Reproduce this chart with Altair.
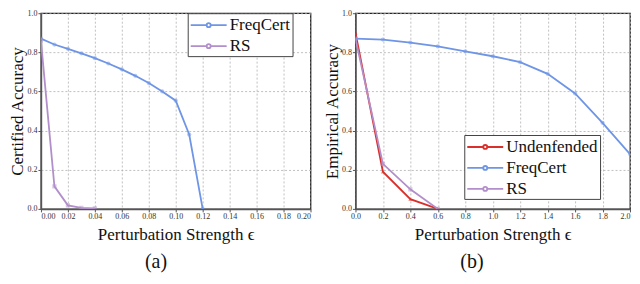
import altair as alt
import pandas as pd

# ---- data (a) ----
a_freq_x = [0.00, 0.01, 0.02, 0.03, 0.04, 0.05, 0.06, 0.07, 0.08, 0.09, 0.10, 0.11, 0.12]
a_freq_y = [0.87, 0.84, 0.818, 0.795, 0.77, 0.743, 0.713, 0.68, 0.643, 0.60, 0.553, 0.38, 0.0]
a_rs_x = [0.00, 0.01, 0.02, 0.03, 0.04]
a_rs_y = [0.86, 0.115, 0.018, 0.005, 0.003]
a_ticks = [0.00, 0.02, 0.04, 0.06, 0.08, 0.10, 0.12, 0.14, 0.16, 0.18, 0.20]

# ---- data (b) ----
b_freq_x = [0.0, 0.2, 0.4, 0.6, 0.8, 1.0, 1.2, 1.4, 1.6, 1.8, 2.0]
b_freq_y = [0.87, 0.865, 0.85, 0.83, 0.805, 0.78, 0.75, 0.69, 0.59, 0.44, 0.28]
b_und_x = [0.0, 0.2, 0.4, 0.6]
b_und_y = [0.90, 0.19, 0.05, 0.0]
b_rs_x = [0.0, 0.2, 0.4, 0.6]
b_rs_y = [0.87, 0.23, 0.10, 0.0]
b_ticks = [0.0, 0.2, 0.4, 0.6, 0.8, 1.0, 1.2, 1.4, 1.6, 1.8, 2.0]

y_ticks = [0.0, 0.2, 0.4, 0.6, 0.8, 1.0]

BLUE = "#6f95e6"
PURPLE = "#b28fcb"
RED = "#d9302c"

df_a = pd.concat([
    pd.DataFrame({"x": a_freq_x, "y": a_freq_y, "s": "FreqCert"}),
    pd.DataFrame({"x": a_rs_x, "y": a_rs_y, "s": "RS"}),
])
df_b = pd.concat([
    pd.DataFrame({"x": b_und_x, "y": b_und_y, "s": "Undenfended"}),
    pd.DataFrame({"x": b_freq_x, "y": b_freq_y, "s": "FreqCert"}),
    pd.DataFrame({"x": b_rs_x, "y": b_rs_y, "s": "RS"}),
])

FONT = "Liberation Serif"
LEGEND_SYMBOL = "M-2,0H-0.22M0.22,0H2M-0.22,0a0.22,0.22 0 1,0 0.44,0a0.22,0.22 0 1,0 -0.44,0"


def panel(df, xdom, xticks, xfmt, ytitle, dom, cols, shapes, lx, ly, caption, cdx, w, last):
    common = dict(grid=True, gridDash=[2, 2], gridColor="#b0b0b0", gridWidth=0.8,
                  labelFontSize=8, labelFont=FONT, labelColor="#333",
                  titleFont=FONT, titleFontSize=17, titleFontWeight="normal",
                  tickSize=3, labelPadding=1, domainColor="#555",
                  domainWidth=1.5, tickColor="#555", titleColor="#111")
    xextra = {}
    if last is not None:
        xextra["labelAlign"] = {"condition": {"test": f"datum.value >= {last}", "value": "right"},
                                "value": "center"}
    xax = alt.Axis(values=xticks, format=xfmt, title="Perturbation Strength  ϵ",
                   titlePadding=6, **xextra, **common)
    yax = alt.Axis(values=y_ticks, format=".1f", title=ytitle, titlePadding=0, **common)
    base = alt.Chart(df).encode(
        x=alt.X("x:Q", scale=alt.Scale(domain=xdom, nice=False, zero=False), axis=xax),
        y=alt.Y("y:Q", scale=alt.Scale(domain=[0, 1], nice=False), axis=yax),
    )
    color = alt.Color("s:N", scale=alt.Scale(domain=dom, range=cols),
                      legend=alt.Legend(title=None, orient="none", legendX=lx, legendY=ly,
                                        symbolType=LEGEND_SYMBOL, symbolSize=324,
                                        symbolOffset=9, symbolStrokeWidth=1.8,
                                        labelFont=FONT, labelFontSize=17, labelOffset=11,
                                        strokeColor="#444", fillColor="white",
                                        padding=2, rowPadding=3, labelLimit=300,
                                        labelColor="#111"))
    layers = [base.mark_line(strokeWidth=1.8, clip=True).encode(color=color, detail="s:N")]
    for name, col, shp in zip(dom, cols, shapes):
        layers.append(
            base.transform_filter(alt.datum.s == name).mark_point(
                filled=True, size=18, opacity=0.5, color=col, shape=shp, clip=True)
        )
    return alt.layer(*layers).properties(
        width=w, height=196,
        title=alt.TitleParams(caption, orient="bottom", anchor="middle", frame="bounds",
                              font=FONT, fontSize=20, fontWeight="normal", offset=9, dx=cdx,
                              color="#111"),
    )


pa = panel(df_a, [0, 0.2], a_ticks, ".2f", "Certified Accuracy", ["FreqCert", "RS"],
           [BLUE, PURPLE], ["circle", "square"], 147, 0, "(a)", -4, 270, None)
pb = panel(df_b, [0, 2.0], b_ticks, ".1f", "Empirical Accuracy", ["Undenfended", "FreqCert", "RS"],
           [RED, BLUE, PURPLE], ["triangle-up", "circle", "square"], 109, 122, "(b)", -5, 275, 2)

chart = alt.hconcat(pa, pb, spacing=10).resolve_scale(color="independent").configure_view(
    stroke="#222", strokeWidth=1.3
).properties(padding=0)

chart.save("out.html", embed_options={"renderer": "svg", "actions": False})
